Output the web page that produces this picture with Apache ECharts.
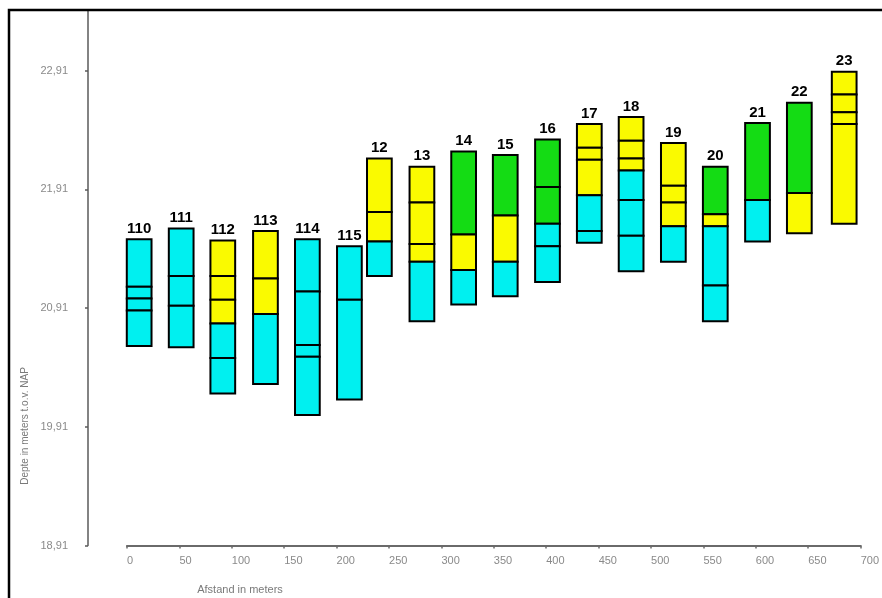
<!DOCTYPE html>
<html>
<head>
<meta charset="utf-8">
<script src="https://cdn.jsdelivr.net/npm/echarts@6/dist/echarts.min.js"></script>
<style>
html,body{margin:0;padding:0;background:#fff;}
#chart{width:882px;height:598px;}
</style>
</head>
<body>
<div id="chart"></div>
<script>
// ---- Data ----
const BASE = 18.91; // lowest axis tick (m NAP)
const boreholes = ['110','111','112','113','114','115','12','13','14','15','16','17','18','19','20','21','22','23'];
const distances = [11.6, 51.7, 91.4, 132.1, 172.1, 212.2, 240.8, 281.4, 321.2, 360.9, 401.2, 441.1, 481.0, 521.3, 561.3, 601.6, 641.5, 684.3];
// layer boundaries, top to bottom (m NAP)
const boundaries = [
  [21.49, 21.09, 20.99, 20.89, 20.59],
  [21.58, 21.18, 20.93, 20.58],
  [21.48, 21.18, 20.98, 20.78, 20.49, 20.19],
  [21.56, 21.16, 20.86, 20.27],
  [21.49, 21.05, 20.60, 20.50, 20.01],
  [21.43, 20.98, 20.14],
  [22.17, 21.72, 21.47, 21.18],
  [22.10, 21.80, 21.45, 21.30, 20.80],
  [22.23, 21.53, 21.23, 20.94],
  [22.20, 21.69, 21.30, 21.01],
  [22.33, 21.93, 21.62, 21.43, 21.13],
  [22.46, 22.26, 22.16, 21.86, 21.56, 21.46],
  [22.52, 22.32, 22.17, 22.07, 21.82, 21.52, 21.22],
  [22.30, 21.94, 21.80, 21.60, 21.30],
  [22.10, 21.70, 21.60, 21.10, 20.80],
  [22.47, 21.82, 21.47],
  [22.64, 21.88, 21.54],
  [22.90, 22.71, 22.56, 22.46, 21.62]
];
// layer type per interval: C = cyan, Y = yellow, G = green
const layerTypes = [
  ['C','C','C','C'],
  ['C','C','C'],
  ['Y','Y','Y','C','C'],
  ['Y','Y','C'],
  ['C','C','C','C'],
  ['C','C'],
  ['Y','Y','C'],
  ['Y','Y','Y','C'],
  ['G','Y','C'],
  ['G','Y','C'],
  ['G','G','C','C'],
  ['Y','Y','Y','C','C'],
  ['Y','Y','Y','C','C','C'],
  ['Y','Y','Y','C'],
  ['G','Y','C','C'],
  ['G','C'],
  ['G','Y'],
  ['Y','Y','Y','Y']
];
const yTicks = ['18,91','19,91','20,91','21,91','22,91'];
const xTicks = [0,50,100,150,200,250,300,350,400,450,500,550,600,650,700];

// ---- Styling ----
const COLORS = {C:'#00F0F0', Y:'#FAFA00', G:'#14DC14'};
const COL_W = 23.6; // column width in x-axis units

const data = [];
boundaries.forEach((b, ci) => {
  for (let li = 0; li < b.length - 1; li++) {
    data.push([distances[ci], b[li] - BASE, b[li+1] - BASE, ci, li]);
  }
});

const chart = echarts.init(document.getElementById('chart'), null, {renderer:'canvas'});
chart.setOption({
  animation: false,
  backgroundColor: '#fff',
  grid: {left: 127, right: 13.7, top: 10, bottom: 52.5, containLabel: false},
  xAxis: {
    type: 'value', min: 0, max: 700, interval: 50,
    axisLine: {show: true, onZero: false, lineStyle: {color: '#6a6a6a', width: 2}},
    axisTick: {show: true, length: 3, lineStyle: {color: '#6a6a6a', width: 1.5}},
    splitLine: {show: false},
    axisLabel: {
      color: '#8a8a8a', fontFamily: 'Liberation Sans Narrow, Arial Narrow, sans-serif', fontSize: 11,
      align: 'left', margin: 10,
      formatter: v => (xTicks.indexOf(Math.round(v)) >= 0 ? String(Math.round(v)) : '')
    }
  },
  yAxis: {
    type: 'value', min: 0, max: 4.511, interval: 1, offset: 39,
    axisLine: {show: true, onZero: false, lineStyle: {color: '#5a5a5a', width: 1.5}},
    axisTick: {show: true, length: 3, lineStyle: {color: '#5a5a5a', width: 1.5}},
    splitLine: {show: false},
    axisLabel: {
      color: '#8a8a8a', fontFamily: 'Liberation Sans Narrow, Arial Narrow, sans-serif', fontSize: 11,
      margin: 20,
      formatter: v => {
        const i = Math.round(v);
        if (Math.abs(v - i) > 0.001) return '';
        return yTicks[i] || '';
      }
    }
  },
  graphic: [
    {type: 'rect', shape: {x: 9, y: 10, width: 900, height: 620}, style: {fill: 'none', stroke: '#000', lineWidth: 2.5}, z: 100},
    {type: 'text', x: 25, y: 426, rotation: Math.PI/2,
      style: {text: 'Depte in meters t.o.v. NAP', fill: '#7a7a7a', font: '10px "Liberation Sans Narrow", "Arial Narrow", sans-serif', align: 'center', verticalAlign: 'middle'}},
    {type: 'text', x: 240, y: 590,
      style: {text: 'Afstand in meters', fill: '#7a7a7a', font: '11px "Liberation Sans Narrow", "Arial Narrow", sans-serif', align: 'center', verticalAlign: 'middle'}}
  ],
  series: [{
    type: 'custom',
    data: data,
    encode: {x: 0, y: [1, 2]},
    clip: false,
    renderItem: function (params, api) {
      const x = api.value(0), top = api.value(1), bot = api.value(2);
      const ci = api.value(3), li = api.value(4);
      const p1 = api.coord([x, top]);
      const p2 = api.coord([x, bot]);
      const w = api.size([COL_W, 0])[0];
      const children = [{
        type: 'rect',
        shape: {x: p1[0] - w/2, y: p1[1], width: w, height: p2[1] - p1[1]},
        style: {fill: COLORS[layerTypes[ci][li]], stroke: '#000', lineWidth: 2}
      }];
      if (li === 0) {
        children.push({
          type: 'text', z2: 10,
          style: {text: boreholes[ci], x: p1[0], y: p1[1] - 3, align: 'center', verticalAlign: 'bottom',
            fill: '#000', font: 'bold 15px "Liberation Sans", Arial, sans-serif'}
        });
      }
      return {type: 'group', children: children};
    }
  }]
});
</script>
</body>
</html>
